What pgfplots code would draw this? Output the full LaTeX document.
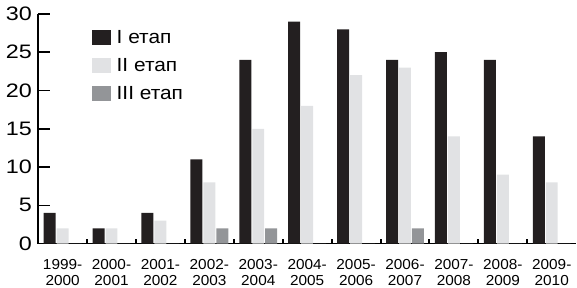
\documentclass[border=0pt]{standalone}
\usepackage{fontspec}
\setmainfont{Liberation Sans}
\newfontfamily\ywide{Liberation Sans}[FakeStretch=1.2]
\newfontfamily\lwide{Liberation Sans}[FakeStretch=1.1]
\newfontfamily\xwide{Liberation Sans}[FakeStretch=1.06]
\usepackage{pgfplots}
\pgfplotsset{compat=1.18}
\definecolor{cI}{HTML}{231F20}
\definecolor{cII}{HTML}{E1E2E4}
\definecolor{cIII}{HTML}{939598}
\begin{document}
\begin{tikzpicture}
\begin{axis}[
  scale only axis, width=539pt, height=230pt,
  xmin=-0.5, xmax=10.5, ymin=0, ymax=30,
  ybar=1pt, bar width=12pt,
  axis x line=bottom, axis y line=left,
  axis line style={line width=1.6pt,-},
  tick align=inside, major tick length=12pt,
  /pgf/number format/assume math mode=true,
  ytick={0,5,...,30},
  major y tick style={line width=1.6pt,black},
  yticklabel style={font=\ywide\fontsize{19.5}{22}\selectfont, text width=32pt, align=right, inner xsep=0pt, xshift=-6pt},
  xtick={0,...,10},
  xticklabels={{1999-\\2000},{2000-\\2001},{2001-\\2002},{2002-\\2003},{2003-\\2004},{2004-\\2005},{2005-\\2006},{2006-\\2007},{2007-\\2008},{2008-\\2009},{2009-\\2010}},
  major x tick style={draw=none},
  xticklabel style={font=\xwide\fontsize{14.5}{15.5}\selectfont, align=center, inner sep=2pt, yshift=-14pt},
  extra x ticks={0.5,1.5,...,9.5},
  extra x tick labels={},
  extra x tick style={major tick length=5pt, major x tick style={draw=black,line width=2pt}},
  legend style={draw=none, fill=none, at={(rel axis cs:0,1)}, anchor=north west, xshift=53.5pt, yshift=-16pt,
    font=\lwide\fontsize{19}{21}\selectfont, row sep=13pt, column sep=0pt,
    inner sep=0pt, nodes={inner sep=0pt}},
  legend cell align=left,
  legend image code/.code={\fill[#1] (0pt,-7.5pt) rectangle (19pt,7.5pt); \path (25pt,0pt);},
]
\addplot[fill=cI, draw=none] coordinates {(0,4) (1,2) (2,4) (3,11) (4,24) (5,29) (6,28) (7,24) (8,25) (9,24) (10,14)};
\addplot[fill=cII, draw=none] coordinates {(0,2) (1,2) (2,3) (3,8) (4,15) (5,18) (6,22) (7,23) (8,14) (9,9) (10,8)};
\addplot[fill=cIII, draw=none] coordinates {(0,0) (1,0) (2,0) (3,2) (4,2) (5,0) (6,0) (7,2) (8,0) (9,0) (10,0)};
\legend{I етап, II етап, III етап}
\end{axis}
\path ([yshift=14pt]current axis.north west);
\end{tikzpicture}
\end{document}
